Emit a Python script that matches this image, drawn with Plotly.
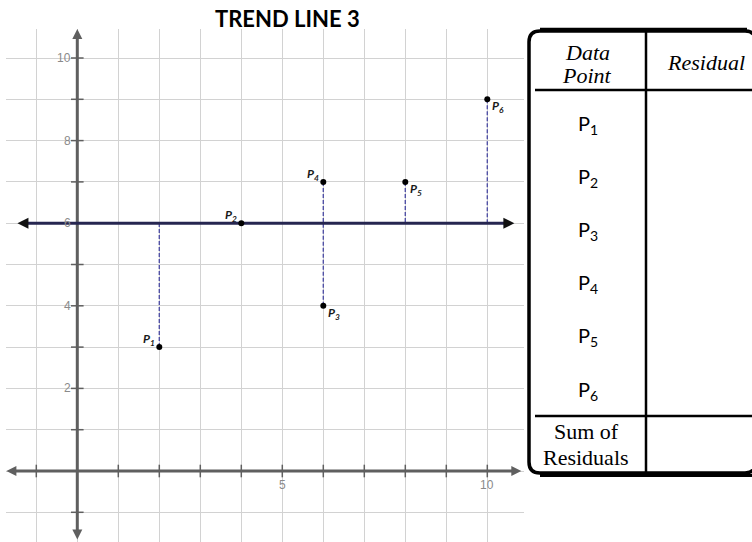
import plotly.graph_objects as go

# ---- data -------------------------------------------------------------
point_names = ["P1", "P2", "P3", "P4", "P5", "P6"]
point_x = [2, 4, 6, 6, 8, 10]
point_y = [3, 6, 4, 7, 7, 9]
trend_slope = 0.0
trend_intercept = 6.0
y_tick_values = [2, 4, 6, 8, 10]
x_tick_values = [5, 10]
table_header = ["Data Point", "Residual"]
table_footer = "Sum of Residuals"

# label side for each point: "ul" = upper-left, "lr" = lower-right
label_side = ["ul", "ul", "lr", "ul", "lr", "lr"]

W, H = 752, 542
AXIS_GRAY = "#5f5f5f"
TREND = "#262650"
RESID = "#5252a6"
CAL = "Lato, 'Open Sans', sans-serif"
SERIF = "'Liberation Serif', 'Times New Roman', serif"
NUM = "'Liberation Sans', Arial, sans-serif"


def px(x):
    return x / W


def py(y):
    return 1 - y / H


def trend(x):
    return trend_slope * x + trend_intercept


fig = go.Figure()

# residual segments between each point and the trend line
rx, ry = [], []
for x, y in zip(point_x, point_y):
    rx += [x, x, None]
    ry += [y, trend(x), None]
fig.add_trace(go.Scatter(x=rx, y=ry, mode="lines",
                         line=dict(color=RESID, width=1.4, dash="4px,2px"),
                         hoverinfo="skip"))

# coordinate axes (lines + arrowheads at both ends)
x_lo, x_hi = -1.73, 10.83
y_lo, y_hi = -1.66, 10.70
fig.add_trace(go.Scatter(x=[x_lo + 0.15, x_hi - 0.15], y=[0, 0], mode="lines",
                         line=dict(color=AXIS_GRAY, width=3), hoverinfo="skip"))
fig.add_trace(go.Scatter(x=[0, 0], y=[y_lo + 0.15, y_hi - 0.15], mode="lines",
                         line=dict(color=AXIS_GRAY, width=3), hoverinfo="skip"))
fig.add_trace(go.Scatter(x=[x_lo, x_hi, 0, 0], y=[0, 0, y_lo, y_hi],
                         mode="markers",
                         marker=dict(symbol=["arrow-left", "arrow-right",
                                             "arrow-down", "arrow-up"],
                                     size=10, color=AXIS_GRAY,
                                     line=dict(width=0)),
                         hoverinfo="skip"))

# axis tick marks on the coordinate axes
ticks = list(range(-1, 11))
ticks.remove(0)
fig.add_trace(go.Scatter(x=[0] * len(ticks), y=ticks, mode="markers",
                         marker=dict(symbol="line-ew", size=9,
                                     line=dict(color=AXIS_GRAY, width=1.5)),
                         hoverinfo="skip"))
fig.add_trace(go.Scatter(x=ticks, y=[0] * len(ticks), mode="markers",
                         marker=dict(symbol="line-ns", size=9,
                                     line=dict(color=AXIS_GRAY, width=1.5)),
                         hoverinfo="skip"))

ann = []

# numeric tick labels
for v in y_tick_values:
    ann.append(dict(x=0, y=v, xref="x", yref="y", text=str(v), showarrow=False,
                    xanchor="right", yanchor="middle", xshift=-4,
                    font=dict(family=NUM, size=12, color="#8a8a8a")))
for v in x_tick_values:
    ann.append(dict(x=v, y=0, xref="x", yref="y", text=str(v), showarrow=False,
                    xanchor="center", yanchor="top", yshift=-5,
                    font=dict(family=NUM, size=12, color="#8a8a8a")))

# trend line with black arrowheads
t_left, t_right = -1.46, 10.66
fig.add_trace(go.Scatter(x=[t_left + 0.1, t_right - 0.1],
                         y=[trend(t_left), trend(t_right)],
                         mode="lines", line=dict(color=TREND, width=3),
                         hoverinfo="skip"))
fig.add_trace(go.Scatter(x=[t_left, t_right], y=[trend(t_left), trend(t_right)],
                         mode="markers",
                         marker=dict(symbol=["arrow-left", "arrow-right"],
                                     size=11, color="#111111",
                                     line=dict(width=0)),
                         hoverinfo="skip"))

# data points
fig.add_trace(go.Scatter(x=point_x, y=point_y, mode="markers",
                         marker=dict(color="black", size=6),
                         hoverinfo="skip"))

# point labels
for name, x, y, side in zip(point_names, point_x, point_y, label_side):
    txt = "<b><i>%s</i></b><sub><b><i>%s</i></b></sub>" % (name[0], name[1:])
    if side == "ul":
        a = dict(xanchor="right", yanchor="bottom", xshift=-2, yshift=-3)
    else:
        a = dict(xanchor="left", yanchor="top", xshift=3, yshift=3)
    ann.append(dict(x=x, y=y, xref="x", yref="y", text=txt, showarrow=False,
                    font=dict(family=CAL, size=12, color="#1a1a1a"), **a))

# title
ann.append(dict(x=px(287), y=py(19), xref="paper", yref="paper",
                text="<b>TREND LINE 3</b>", showarrow=False,
                xanchor="center", yanchor="middle",
                font=dict(family=CAL, size=22, color="black")))

# ---- residual table ---------------------------------------------------
L, T, R, B, r = 529, 31, 756, 473, 11
shapes = []
path = ("M {a},{b} L {c},{b} Q {d},{b} {d},{e} L {d},{f} Q {d},{g} {c},{g} "
        "L {a},{g} Q {h},{g} {h},{f} L {h},{e} Q {h},{b} {a},{b} Z").format(
    a=px(L + r), b=py(T), c=px(R - r), d=px(R), e=py(T + r), f=py(B - r),
    g=py(B), h=px(L))
shapes.append(dict(type="path", path=path, xref="paper", yref="paper",
                   fillcolor="white", line=dict(color="black", width=3.5),
                   layer="above"))
# heavier top and bottom rules
shapes.append(dict(type="line", xref="paper", yref="paper",
                   x0=px(L + r), x1=px(R - r + 2), y0=py(T - 2), y1=py(T - 2),
                   line=dict(color="black", width=2.5), layer="above"))
shapes.append(dict(type="line", xref="paper", yref="paper",
                   x0=px(L + r), x1=px(W + 2), y0=py(B + 2.5), y1=py(B + 2.5),
                   line=dict(color="black", width=3), layer="above"))
# column divider and row separators
col_x = 646
shapes.append(dict(type="line", xref="paper", yref="paper",
                   x0=px(col_x), x1=px(col_x), y0=py(T), y1=py(B),
                   line=dict(color="black", width=2.5), layer="above"))
for yy in (90, 416):
    shapes.append(dict(type="line", xref="paper", yref="paper",
                       x0=px(535), x1=px(W + 2), y0=py(yy), y1=py(yy),
                       line=dict(color="black", width=2.5), layer="above"))

col1_c = 587
hdr_words = table_header[0].split(" ")
ann.append(dict(x=px(col1_c), y=py(52), xref="paper", yref="paper",
                text="<i>%s</i>" % hdr_words[0], showarrow=False,
                xanchor="center", yanchor="middle",
                font=dict(family=SERIF, size=22, color="black")))
ann.append(dict(x=px(col1_c), y=py(75), xref="paper", yref="paper",
                text="<i>%s</i>" % hdr_words[1], showarrow=False,
                xanchor="center", yanchor="middle",
                font=dict(family=SERIF, size=22, color="black")))
ann.append(dict(x=px(706), y=py(63), xref="paper", yref="paper",
                text="<i>%s</i>" % table_header[1], showarrow=False,
                xanchor="center", yanchor="middle",
                font=dict(family=SERIF, size=22, color="black")))

for i, name in enumerate(point_names):
    yc = 124 + 53.2 * i
    ann.append(dict(x=px(col1_c + 1), y=py(yc), xref="paper", yref="paper",
                    text="%s<sub>%s</sub>" % (name[0], name[1:]),
                    showarrow=False, xanchor="center", yanchor="middle",
                    font=dict(family=CAL, size=20, color="black")))

foot_words = table_footer.split(" ")
ann.append(dict(x=px(586), y=py(431), xref="paper", yref="paper",
                text=" ".join(foot_words[:2]), showarrow=False,
                xanchor="center", yanchor="middle",
                font=dict(family=SERIF, size=22, color="black")))
ann.append(dict(x=px(586), y=py(457), xref="paper", yref="paper",
                text=foot_words[2], showarrow=False,
                xanchor="center", yanchor="middle",
                font=dict(family=SERIF, size=22, color="black")))

x0p, x1p = 6, 524
y0p, y1p = 29, 542
x_zero, x_unit = 77.3, 41.0
y_zero, y_unit = 471.0, 41.3

fig.update_layout(
    width=W, height=H,
    margin=dict(l=0, r=0, t=0, b=0),
    paper_bgcolor="white", plot_bgcolor="white",
    showlegend=False,
    xaxis=dict(domain=[px(x0p), px(x1p)],
               range=[(x0p - x_zero) / x_unit, (x1p - x_zero) / x_unit],
               dtick=1, tick0=0, showgrid=True, gridcolor="#d2d2d2",
               gridwidth=1, zeroline=False, showticklabels=False,
               showline=False, fixedrange=True),
    yaxis=dict(domain=[0, 1 - y0p / H],
               range=[(y_zero - y1p) / y_unit, (y_zero - y0p) / y_unit],
               dtick=1, tick0=0, showgrid=True, gridcolor="#d2d2d2",
               gridwidth=1, zeroline=False, showticklabels=False,
               showline=False, fixedrange=True),
    annotations=ann,
    shapes=shapes,
)

fig.write_html("out.html", config={"displayModeBar": False})
